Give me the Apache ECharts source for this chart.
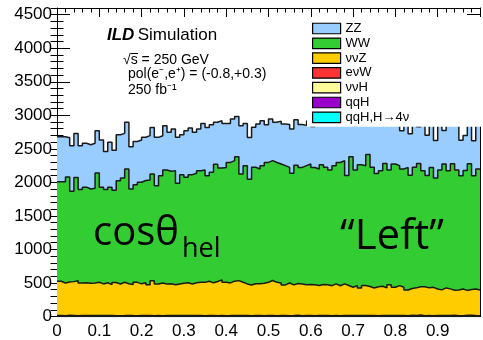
<!DOCTYPE html>
<html><head><meta charset="utf-8">
<script src="https://cdn.jsdelivr.net/npm/echarts@6/dist/echarts.min.js"></script>
<style>html,body{margin:0;padding:0;background:#fff}#c{width:483px;height:340px}</style>
</head><body><div id="c"></div>
<script>
// histogram binning (100 bins on cos theta_hel in [0,1])
const binLow = 0;
const binWidth = 0.01;
const yTickLabels = ['0','500','1000','1500','2000','2500','3000','3500','4000','4500'];
const xTickLabels = ['0','0.1','0.2','0.3','0.4','0.5','0.6','0.7','0.8','0.9'];
const legendNames = ['ZZ','WW','ννZ','eνW','ννH','qqH','qqH,H→4ν'];

const zz = [671,671,585,680,655,655,655,661,671,631,
704,565,670,596,685,665,695,631,645,631,
645,661,695,720,596,661,581,621,685,596,
694,695,611,621,695,720,711,626,705,655,
581,621,600,720,630,621,596,670,670,560,
620,600,640,620,640,660,680,640,600,640,
610,700,660,700,720,680,660,640,760,620,
660,680,700,600,700,720,700,640,700,640,
680,570,700,620,720,550,700,600,700,560,
720,500,700,640,720,530,522,700,520,700];

const ww = [1485,1509,1566,1347,1541,1391,1426,1405,1410,1629,
1441,1391,1451,1376,1540,1556,1713,1425,1456,1514,
1525,1564,1590,1465,1599,1698,1678,1703,1500,1619,
1575,1629,1633,1664,1674,1575,1648,1748,1669,1714,
1797,1798,1848,1615,1763,1579,1738,1713,1753,1788,
1788,1788,1772,1778,1723,1663,1763,1738,1778,1797,
1748,1738,1787,1753,1723,1763,1837,1837,1639,1947,
1723,1837,1788,1967,1798,1688,1723,1857,1713,1837,
1788,1763,1828,1689,1798,1837,1728,1674,1788,1654,
1788,1847,1763,1887,1788,1689,1788,1877,1689,1803];

const vvz = [511,487,496,506,521,487,487,482,487,496,
472,487,462,496,472,496,472,462,496,472,
487,457,521,472,487,472,472,457,472,482,
487,472,487,496,496,511,487,511,531,496,
487,511,521,496,472,457,472,472,482,496,
521,496,487,457,487,457,472,472,457,462,
462,447,462,457,447,472,447,472,447,422,
447,412,447,432,412,432,437,412,457,422,
447,422,382,397,412,422,432,412,422,397,
382,412,397,372,382,397,372,382,397,382];

const evw = [8,7,9,8,6,8,9,7,8,8,
7,9,8,6,8,7,9,8,7,8,
8,9,7,8,6,8,8,9,7,8,
9,7,8,8,7,9,8,6,8,7,
8,9,7,8,8,7,9,8,7,8,
8,7,9,8,6,8,14,7,8,9,
7,8,8,9,7,8,6,8,9,7,
8,8,7,9,8,7,8,8,9,7,
8,8,7,14,8,14,7,9,8,8,
7,8,9,14,8,7,9,14,8,7];

const vvh = [3,3,4,3,2,3,3,4,3,3,
3,4,3,3,2,3,4,3,3,3,
4,3,3,2,3,3,4,3,3,3,
3,3,4,3,3,2,3,3,4,3,
3,4,3,3,3,2,3,4,3,3,
3,3,2,3,4,3,3,3,4,3,
2,3,3,4,3,3,3,2,3,4,
3,3,3,4,3,2,3,3,3,4,
3,2,3,3,4,3,3,3,2,3,
4,3,3,3,2,3,4,3,3,3];

const qqh = [2,2,3,2,2,2,3,2,2,2,
3,2,2,2,2,3,2,2,2,3,
2,2,2,3,2,2,2,2,3,2,
2,3,2,2,2,2,3,2,2,2,
2,2,3,2,2,2,3,2,2,2,
3,2,2,2,2,3,2,2,2,2,
2,3,2,2,2,2,2,3,2,2,
2,2,3,2,2,2,3,2,2,2,
2,3,2,2,2,3,2,2,2,2,
3,2,2,2,2,2,3,2,2,2];

const qqh4v = [1,1,1,1,1,1,1,1,1,1,
1,1,1,1,1,1,1,1,1,1,
1,1,1,1,1,1,1,1,1,1,
1,1,1,1,1,1,1,1,1,1,
1,1,1,1,1,1,1,1,1,1,
1,1,1,1,1,1,1,1,1,1,
1,1,1,1,1,1,1,1,1,1,
1,1,1,1,1,1,1,1,1,1,
1,1,1,1,1,1,1,1,1,1,
1,1,1,1,1,1,1,1,1,1];

const colors = {
  'ZZ':'#99ccff','WW':'#33cc33','ννZ':'#ffcc00','eνW':'#ff3333',
  'ννH':'#ffff99','qqH':'#9900cc','qqH,H→4ν':'#00ffff'
};

function histPoints(vals){
  const pts = vals.map((v,i)=>[binLow + i*binWidth, v]);
  pts.push([binLow + vals.length*binWidth, vals[vals.length-1]]);
  return pts;
}

// THStack-style drawing: stack order bottom -> top, each layer drawn as its cumulative histogram
const stackOrder = [
  ['qqH,H→4ν', qqh4v], ['qqH', qqh], ['ννH', vvh], ['eνW', evw],
  ['ννZ', vvz], ['WW', ww], ['ZZ', zz]
];
let running = stackOrder[0][1].map(()=>0);
const cumulative = stackOrder.map(([name, vals]) => {
  running = running.map((r,i)=>r+vals[i]);
  return [name, running];
});
// draw the tallest (top of stack) first, so lower layers paint over it
const series = cumulative.slice().reverse().map(([name, vals]) => ({
  name, type:'line', step:'end', symbol:'none',
  data: histPoints(vals),
  lineStyle:{color:'#1a1a1a', width:1.5},
  itemStyle:{color:colors[name]},
  areaStyle:{color:colors[name], opacity:1, origin:'start'},
  silent:true, animation:false
}));

const AX = 'Liberation Sans, Arial, sans-serif';
const BIG = '"Open Sans", sans-serif';
const axisLineStyle = {color:'#000', width:1};

const chart = echarts.init(document.getElementById('c'), null, {renderer:'canvas'});
const yCommon = {type:'value', min:0, max:4600, splitLine:{show:false}};
const xCommon = {type:'value', min:0, max:1, interval:0.1, splitLine:{show:false}};

chart.setOption({
  animation:false,
  backgroundColor:'#fff',
  grid:{left:57, top:8, width:430, height:308.5, containLabel:false},
  xAxis:[
    Object.assign({}, xCommon, {position:'bottom',
      axisLine:{show:true, onZero:false, lineStyle:axisLineStyle},
      axisTick:{inside:true, length:8, lineStyle:axisLineStyle},
      minorTick:{show:true, splitNumber:5, length:4, lineStyle:axisLineStyle},
      axisLabel:{fontFamily:AX, fontSize:17, color:'#000', margin:6,
        formatter:(v)=>{const k=Math.round(v*10); return k<xTickLabels.length?xTickLabels[k]:'';}}
    }),
    Object.assign({}, xCommon, {position:'top',
      axisLine:{show:true, onZero:false, lineStyle:axisLineStyle},
      axisTick:{inside:true, length:9, lineStyle:axisLineStyle},
      minorTick:{show:true, splitNumber:5, length:4.5, lineStyle:axisLineStyle},
      axisLabel:{show:false}
    })
  ],
  yAxis:[
    Object.assign({}, yCommon, {position:'left', interval:500,
      axisLine:{show:true, onZero:false, lineStyle:axisLineStyle},
      axisTick:{inside:true, length:13, lineStyle:axisLineStyle},
      axisLabel:{fontFamily:AX, fontSize:17, color:'#000', margin:5, padding:[3,0,0,0],
        formatter:(v)=>{const k=Math.round(v/500); return (v%500===0 && k<yTickLabels.length)?yTickLabels[k]:'';}}
    }),
    Object.assign({}, yCommon, {position:'left', interval:100,
      axisLine:{show:false}, axisTick:{inside:true, length:6.5, lineStyle:axisLineStyle},
      axisLabel:{show:false}
    }),
    Object.assign({}, yCommon, {position:'right', interval:500,
      axisLine:{show:true, onZero:false, lineStyle:axisLineStyle},
      axisTick:{inside:true, length:13, lineStyle:axisLineStyle},
      axisLabel:{show:false}
    }),
    Object.assign({}, yCommon, {position:'right', interval:100,
      axisLine:{show:false}, axisTick:{inside:true, length:6.5, lineStyle:axisLineStyle},
      axisLabel:{show:false}
    })
  ],
  legend:{
    orient:'vertical', left:307, top:17, z:20,
    backgroundColor:'#fff', padding:[5,120,3,5],
    itemWidth:28, itemHeight:10.5, itemGap:1.8, icon:'rect',
    selectedMode:false,
    textStyle:{fontFamily:AX, fontSize:13, color:'#000'},
    data: legendNames.map(n=>({name:n, itemStyle:{color:colors[n], borderColor:'#000', borderWidth:1.2}}))
  },
  series,
  graphic:[
    {type:'text', x:107, y:35, z:30, style:{
      text:'{b|ILD} {n|Simulation}', fill:'#000', textVerticalAlign:'middle',
      rich:{b:{fontFamily:AX, fontSize:17, fontWeight:'bold', fontStyle:'italic'}, n:{fontFamily:AX, fontSize:17}}}},
    {type:'text', x:123, y:60, z:30, style:{text:'√s = 250 GeV', font:'14px '+AX, fill:'#000', textVerticalAlign:'middle'}},
    {type:'line', z:30, shape:{x1:130.5, y1:53.5, x2:138, y2:53.5}, style:{stroke:'#000', lineWidth:1}},
    {type:'text', x:128, y:74, z:30, style:{text:'pol(e⁻,e⁺) = (-0.8,+0.3)', font:'14px '+AX, fill:'#000', textVerticalAlign:'middle'}},
    {type:'text', x:128, y:90, z:30, style:{text:'250 fb⁻¹', font:'14px '+AX, fill:'#000', textVerticalAlign:'middle'}},
    {type:'text', x:93, y:234, z:30, style:{text:'cosθ', font:'40px '+BIG, fill:'#000', textVerticalAlign:'middle'}},
    {type:'text', x:182, y:249, z:30, style:{text:'hel', font:'27px '+BIG, fill:'#000', textVerticalAlign:'middle'}},
    {type:'text', x:340, y:237, z:30, style:{text:'“Left”', font:'42px '+BIG, fill:'#000', textVerticalAlign:'middle'}}
  ]
});
</script></body></html>
